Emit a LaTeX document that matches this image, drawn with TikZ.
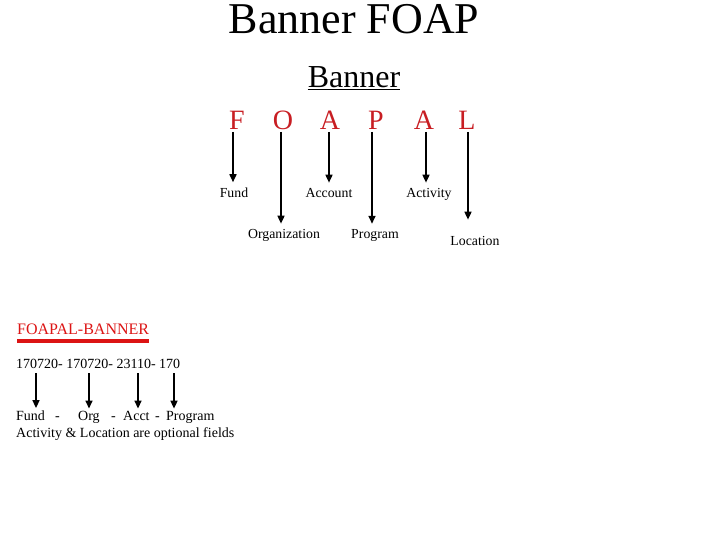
\documentclass[tikz,border=0pt]{standalone}
\usepackage{fontspec}
\setmainfont{Liberation Serif}
\usetikzlibrary{arrows.meta}
\definecolor{letterred}{RGB}{200,30,35}
\definecolor{barred}{RGB}{220,20,20}
\tikzset{
  arr/.style={line width=1.6pt,-{Triangle[width=7pt,length=8pt]}},
  lab/.style={inner sep=0pt,anchor=base,font=\fontsize{13.8}{16}\selectfont},
  lett/.style={inner sep=0pt,anchor=base,text=letterred,font=\fontsize{28}{32}\selectfont},
  txt/.style={inner sep=0pt,anchor=base west,font=\fontsize{14}{16}\selectfont}
}
\begin{document}
\begin{tikzpicture}[x=1pt,y=-1pt]
\useasboundingbox (0,0) rectangle (720,540);
% title
\node[inner sep=0pt,anchor=base,font=\fontsize{44}{48}\selectfont] (title) at (354,34) {Banner FOAP};
\node[inner sep=0pt,anchor=base,font=\fontsize{32}{36}\selectfont] (banner) at (354,88) {Banner};
\draw[line width=1.5pt] (banner.south west) ++(0,1) coordinate (ul1) -- (ul1 -| banner.south east);
% letters
\node[lett] (F) at (237,130) {F};
\node[lett] (O) at (283,130) {O};
\node[lett] (A1) at (330,130) {A};
\node[lett] (P) at (376,130) {P};
\node[lett] (A2) at (424,130) {A};
\node[lett] (L) at (467,130) {L};
% labels
\node[lab] (fund) at (234,197) {Fund};
\node[lab] (account) at (329,197) {Account};
\node[lab] (activity) at (429,197) {Activity};
\node[lab] (org) at (284,238) {Organization};
\node[lab] (prog) at (375,238) {Program};
\node[lab] (loc) at (475,245) {Location};
% arrows
\coordinate (aF) at (233,132);
\coordinate (aO) at (281,132);
\coordinate (aA1) at (329,132);
\coordinate (aP) at (372,132);
\coordinate (aA2) at (426,132);
\coordinate (aL) at (468,132);
\draw[arr,shorten >=5pt] (aF) -- (aF |- fund.north);
\draw[arr,shorten >=5pt] (aO) -- (aO |- org.north);
\draw[arr,shorten >=5pt] (aA1) -- (aA1 |- account.north);
\draw[arr,shorten >=5pt] (aP) -- (aP |- prog.north);
\draw[arr,shorten >=5pt] (aA2) -- (aA2 |- activity.north);
\draw[arr,shorten >=16pt] (aL) -- (aL |- loc.north);
% bottom block
\node[txt,text=barred,font=\fontsize{16}{18}\selectfont] (fb) at (17,334) {FOAPAL-BANNER};
\draw[barred,line width=3.5pt] ([yshift=-7pt]fb.base west) -- ([yshift=-7pt]fb.base east);
\node[txt] (nums) at (16,368) {170720- 170720- 23110- 170};
\node[txt] (bF) at (16,420) {Fund};
\node[txt] (d1) at (55,420) {-};
\node[txt] (bO) at (78,420) {Org};
\node[txt] (d2) at (111,420) {-};
\node[txt] (bA) at (123,420) {Acct};
\node[txt] (d3) at (155,420) {-};
\node[txt] (bP) at (166,420) {Program};
\node[txt,font=\fontsize{14}{16}\selectfont] (opt) at (16,437) {Activity \& Location are optional fields};
\coordinate (b1) at (36,373);
\coordinate (b2) at (89,373);
\coordinate (b3) at (138,373);
\coordinate (b4) at (174,373);
\draw[arr,shorten >=2pt] (b1) -- (b1 |- bF.north);
\draw[arr,shorten >=2pt] (b2) -- (b2 |- bO.north);
\draw[arr,shorten >=2pt] (b3) -- (b3 |- bA.north);
\draw[arr,shorten >=2pt] (b4) -- (b4 |- bP.north);
\end{tikzpicture}
\end{document}
